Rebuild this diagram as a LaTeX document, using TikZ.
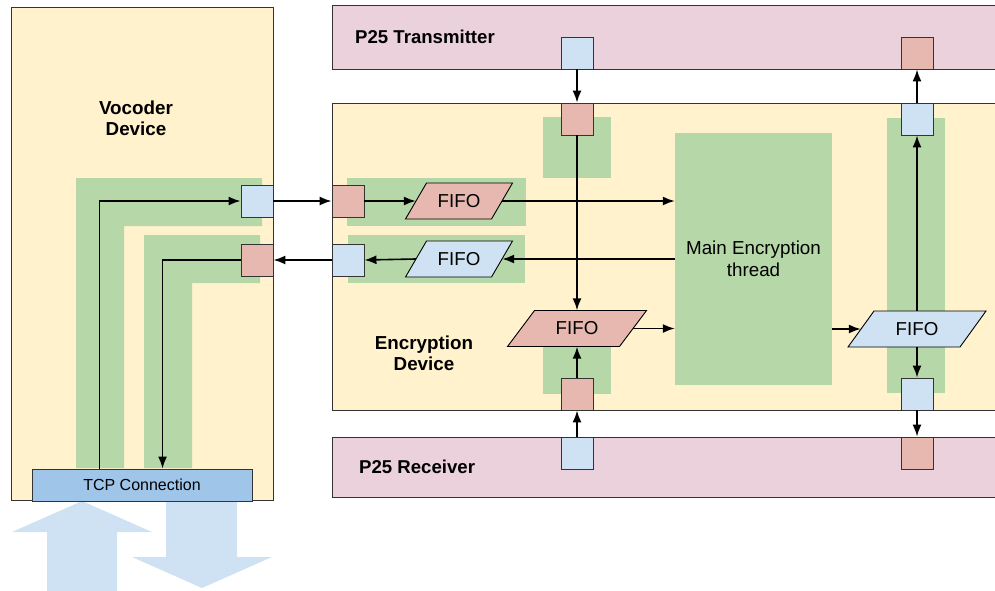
\documentclass[tikz,border=0pt]{standalone}
\usepackage{fontspec}
\setmainfont{Liberation Sans}
\usetikzlibrary{arrows.meta}
\definecolor{ybg}{HTML}{FFF2CC}
\definecolor{grn}{HTML}{B6D7A8}
\definecolor{pnk}{HTML}{EAD1DC}
\definecolor{rsq}{HTML}{E6B8AF}
\definecolor{bsq}{HTML}{CFE2F3}
\definecolor{tcpb}{HTML}{9FC5E8}
\definecolor{edge}{HTML}{333333}
\tikzset{
  box/.style={draw=edge, line width=0.9pt},
  sq/.style={draw=edge, line width=0.9pt, minimum width=32pt, minimum height=32pt, inner sep=0pt},
  rsqbox/.style={sq, fill=rsq},
  bsqbox/.style={sq, fill=bsq},
  zone/.style={fill=grn, draw=none},
  fifotext/.style={inner sep=0pt, minimum height=36pt, font=\fontsize{18.7}{22}\selectfont},
  fifoline/.style={draw=black, line width=0.9pt},
  conn/.style={line width=1.6pt, -{Latex[length=12pt,width=9pt]}},
  biglabel/.style={font=\fontsize{18.8}{21}\selectfont\bfseries, align=center, inner sep=0pt},
  p25label/.style={font=\fontsize{18.6}{21}\selectfont\bfseries, inner sep=0pt, anchor=west},
  fatarrow/.style={fill=bsq, draw=none}
}
% name, cx, cy, half width, half slant, colour
\newcommand\myfifo[6]{%
  \draw[fifoline, fill=#6] ({#2-#4-#5},{#3+18}) -- ({#2+#4-#5},{#3+18}) -- ({#2+#4+#5},{#3-18}) -- ({#2-#4+#5},{#3-18}) -- cycle;
  \node[fifotext, minimum width={2*#4}] (#1) at (#2,#3) {FIFO};
}
\begin{document}
\begin{tikzpicture}[x=1pt,y=-1pt]
\useasboundingbox (0,0) rectangle (995,590);
\clip (0,0) rectangle (995,590);

% big boxes
\draw[box, fill=ybg] (11,7) rectangle (273,500);
\draw[box, fill=pnk] (332,5) rectangle (1010,69);
\draw[box, fill=ybg] (332,103) rectangle (1010,410);
\draw[box, fill=pnk] (332,437) rectangle (1010,497);

% green zones
\fill[zone] (76,468) -- (76,178) -- (262,178) -- (262,226) -- (124,226) -- (124,468) -- cycle;
\fill[zone] (144,468) -- (144,235) -- (260,235) -- (260,283) -- (192,283) -- (192,468) -- cycle;
\fill[zone] (543,117) rectangle (611,178);
\fill[zone] (347,178) rectangle (526,226);
\fill[zone] (348,235) rectangle (525,283);
\fill[zone] (543,340) rectangle (611,394);
\fill[zone] (887,118) rectangle (945,393);

\node[zone, minimum width=157pt, minimum height=252pt, inner sep=0pt, align=center,
      font=\fontsize{18.8}{22}\selectfont] (main) at (753.5,259) {Main Encryption\\thread};

% labels
\node[biglabel] (vlabel) at (136,118) {Vocoder\\Device};
\node[biglabel] (elabel) at (424,353) {Encryption\\Device};
\node[p25label] (tlabel) at (355,37) {P25 Transmitter};
\node[p25label] (rlabel) at (359,467) {P25 Receiver};

% fat arrows
\fill[fatarrow] (82,501) -- (152,532) -- (117,532) -- (117,592) -- (47,592) -- (47,532) -- (12,532) -- cycle;
\fill[fatarrow] (166,500) -- (237,500) -- (237,557) -- (272,557) -- (202,588) -- (132,557) -- (166,557) -- cycle;

% TCP connection
\node[box, fill=tcpb, minimum width=220pt, minimum height=32pt, inner sep=0pt,
      font=\fontsize{16}{19}\selectfont] (tcp) at (142,485) {TCP Connection};

% squares
\node[bsqbox] (tA) at (577,53) {};
\node[rsqbox] (tB) at (917,53) {};
\node[rsqbox] (eA) at (577,119) {};
\node[bsqbox] (eB) at (917,119) {};
\node[rsqbox] (eC) at (577,394) {};
\node[bsqbox] (eD) at (917,394) {};
\node[bsqbox] (rA) at (577,453) {};
\node[rsqbox] (rB) at (917,453) {};
\node[bsqbox] (vA) at (257,201) {};
\node[rsqbox] (vB) at (257,260) {};
\node[rsqbox] (eL1) at (348,201) {};
\node[bsqbox] (eL2) at (348,260) {};

% FIFOs
\myfifo{fA}{459}{201}{43}{10.5}{rsq}
\myfifo{fB}{459}{259}{43}{10.5}{bsq}
\myfifo{fC}{577}{328.5}{56}{13.5}{rsq}
\myfifo{fD}{917}{329}{56}{13}{bsq}

% connectors
\draw[conn] ([xshift=68pt]tcp.north west) |- (vA.west);
\draw[conn] (vB.west) -| ([xshift=131pt]tcp.north west);
\draw[conn] (vA.east) -- (eL1.west);
\draw[conn] (eL2.west) -- (vB.east);
\draw[conn] (eL1.east) -- (fA.west);
\draw[conn] (fA.east) -- (fA.east -| main.west);
\draw[conn] (fB.east -| main.west) -- (fB.east);
\draw[conn] (fB.west) -- (eL2.east);
\draw[conn] (tA.south) -- (eA.north);
\draw[conn] (eA.south) -- (fC.north);
\draw[conn] (rA.north) -- (eC.south);
\draw[conn] (eC.north) -- (fC.south);
\draw[conn] (fC.east) -- (fC.east -| main.west);
\draw[conn] (main.east |- fD.west) -- (fD.west);
\draw[conn] (fD.north) -- (eB.south);
\draw[conn] (fD.south) -- (eD.north);
\draw[conn] (eB.north) -- (tB.south);
\draw[conn] (eD.south) -- (rB.north);
\end{tikzpicture}
\end{document}
